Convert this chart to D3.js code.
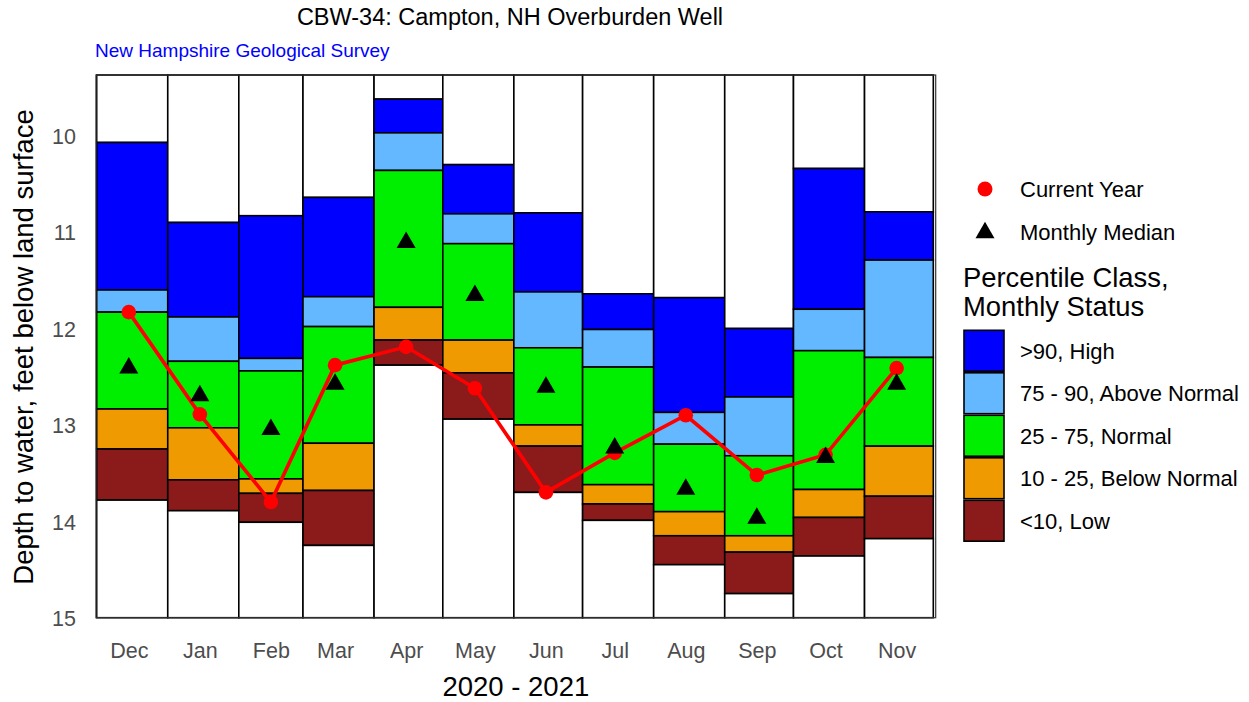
<!DOCTYPE html>
<html><head><meta charset="utf-8">
<script src="https://cdn.jsdelivr.net/npm/d3@7"></script>
<style>
html,body{margin:0;padding:0;background:#fff;}
svg{display:block;font-family:"Liberation Sans",Arial,sans-serif;}
</style></head>
<body>
<svg id="chart" width="1249" height="702"></svg>
<script>
// ---- data (depth to water, feet below land surface) ----
const months = ["Dec","Jan","Feb","Mar","Apr","May","Jun","Jul","Aug","Sep","Oct","Nov"];
const monthStarts = ["2020-12-01","2021-01-01","2021-02-01","2021-03-01","2021-04-01","2021-05-01","2021-06-01","2021-07-01","2021-08-01","2021-09-01","2021-10-01","2021-11-01","2021-12-01"];
const maxLevel = [10.07,10.90,10.83,10.64, 9.62,10.30,10.80,11.64,11.68,12.00,10.34,10.79];
const p90      = [11.60,11.88,12.31,11.67, 9.97,10.81,11.62,12.01,12.87,12.71,11.80,11.29];
const p75      = [11.83,12.34,12.44,11.98,10.36,11.12,12.20,12.40,13.20,13.32,12.23,12.30];
const p25      = [12.835,13.03,13.56,13.19,11.78,12.12,13.00,13.62,13.90,14.15,13.67,13.22];
const p10      = [13.25,13.57,13.71,13.68,12.12,12.46,13.22,13.82,14.15,14.32,13.96,13.74];
const minLevel = [13.78,13.89,14.01,14.25,12.38,12.94,13.70,13.99,14.45,14.75,14.36,14.18];
const median   = [12.38,12.67,13.02,12.55,11.08,11.63,12.58,13.21,13.64,13.94,13.31,12.55];
const current  = [11.83,12.89,13.80,12.38,12.19,12.62,13.70,13.29,12.90,13.52,13.31,12.41];
const yTicks = [10,11,12,13,14,15];
const yDomain = [9.37, 15.0];
const classLabels = [">90, High","75 - 90, Above Normal","25 - 75, Normal","10 - 25, Below Normal","<10, Low"];
const classColors = ["#0000FF","#63B8FF","#00EE00","#EE9A00","#8B1A1A"];

// ---- layout ----
const svg = d3.select("#chart");
const P = {left:96, right:935.7, top:75, bottom:617.7};
const parse = d3.utcParse("%Y-%m-%d");
const starts = monthStarts.map(parse);
const x = d3.scaleUtc().domain([starts[0], starts[starts.length-1]]).range([96.7, 933.3]);
const y = d3.scaleLinear().domain(yDomain).range([P.top, P.bottom]);
const mid = i => d3.utcDay.offset(starts[i], 14);

// bars: stacked segments per month
const segs = [];
months.forEach((m,i)=>{
  const b = [yDomain[0], maxLevel[i], p90[i], p75[i], p25[i], p10[i], minLevel[i], yDomain[1]];
  const fills = ["#FFFFFF"].concat(classColors, ["#FFFFFF"]);
  for(let k=0;k<7;k++) segs.push({i, y0:b[k], y1:b[k+1], fill:fills[k]});
});
svg.append("g").selectAll("rect").data(segs).join("rect")
  .attr("x", d=>x(starts[d.i]))
  .attr("width", d=>x(starts[d.i+1])-x(starts[d.i]))
  .attr("y", d=>y(d.y0))
  .attr("height", d=>y(d.y1)-y(d.y0))
  .attr("fill", d=>d.fill)
  .attr("stroke","#000").attr("stroke-width",1.6);

// panel border
svg.append("rect").attr("x",P.left).attr("y",P.top)
  .attr("width",P.right-P.left).attr("height",P.bottom-P.top)
  .attr("fill","none").attr("stroke","#333").attr("stroke-width",1.2);

// current year line + dots
const line = d3.line().x((d,i)=>x(mid(i))).y(d=>y(d));
svg.append("path").datum(current).attr("d",line)
  .attr("fill","none").attr("stroke","#FF0000").attr("stroke-width",3.6);
svg.append("g").selectAll("circle").data(current).join("circle")
  .attr("cx",(d,i)=>x(mid(i))).attr("cy",d=>y(d)).attr("r",7.3).attr("fill","#FF0000");

// medians (triangles)
const tri = (cx,cy,w,h)=>`M${cx-w/2},${cy+h/2}L${cx+w/2},${cy+h/2}L${cx},${cy-h/2}Z`;
svg.append("g").selectAll("path").data(median).join("path")
  .attr("d",(d,i)=>tri(x(mid(i)), y(d), 19, 16.5)).attr("fill","#000");

// y axis
const yAxis = d3.axisLeft(y).tickValues(yTicks).tickSize(0).tickPadding(0).tickFormat(d3.format("d"));
const ga = svg.append("g").attr("transform","translate(76,0)").call(yAxis);
ga.select(".domain").remove();
ga.selectAll("text").attr("fill","#4D4D4D").style("font-size","21.5px").attr("x",0).attr("dy","0.36em");

// x axis (month labels at mid-month)
const xAxis = d3.axisBottom(x).tickValues(months.map((m,i)=>mid(i))).tickSize(0).tickPadding(0)
  .tickFormat((d,i)=>months[i]);
const gx = svg.append("g").attr("transform","translate(0,642.5)").call(xAxis);
gx.select(".domain").remove();
gx.selectAll("text").attr("fill","#4D4D4D").style("font-size","21.5px").attr("dy","0.71em");

// axis titles
svg.append("text").attr("x",(P.left+P.right)/2).attr("y",696).attr("text-anchor","middle")
  .style("font-size","27.5px").attr("fill","#000").text("2020 - 2021");
svg.append("text").attr("transform","translate(33,347) rotate(-90)")
  .attr("text-anchor","middle").style("font-size","27.5px").attr("fill","#000")
  .text("Depth to water, feet below land surface");

// titles
svg.append("text").attr("x",510).attr("y",25).attr("text-anchor","middle")
  .style("font-size","23.5px").attr("fill","#000").text("CBW-34: Campton, NH Overburden Well");
svg.append("text").attr("x",95).attr("y",57).style("font-size","19px").attr("fill","#0000FF")
  .text("New Hampshire Geological Survey");

// legend
const lg = svg.append("g");
lg.append("circle").attr("cx",985).attr("cy",189).attr("r",7.5).attr("fill","#FF0000");
lg.append("text").attr("x",1020).attr("y",189).attr("dy","0.36em").style("font-size","22px").text("Current Year");
lg.append("path").attr("d",tri(985,230,19,16.5)).attr("fill","#000");
lg.append("text").attr("x",1020).attr("y",232).attr("dy","0.36em").style("font-size","22px").text("Monthly Median");
lg.append("text").attr("x",963).attr("y",277).attr("dy","0.36em").style("font-size","27.4px").text("Percentile Class,");
lg.append("text").attr("x",963).attr("y",306).attr("dy","0.36em").style("font-size","27.4px").text("Monthly Status");
const ky = d3.scaleBand().domain(classLabels).range([329.5,542]);
lg.selectAll("rect.key").data(classLabels).join("rect").attr("class","key")
  .attr("x",964).attr("y",d=>ky(d)+0.8).attr("width",40).attr("height",ky.bandwidth()-1.6)
  .attr("fill",(d,i)=>classColors[i]).attr("stroke","#000").attr("stroke-width",1.6);
lg.selectAll("text.kl").data(classLabels).join("text").attr("class","kl")
  .attr("x",1020).attr("y",d=>ky(d)+ky.bandwidth()/2).attr("dy","0.36em")
  .style("font-size","22px").text(d=>d);
</script>
</body></html>
